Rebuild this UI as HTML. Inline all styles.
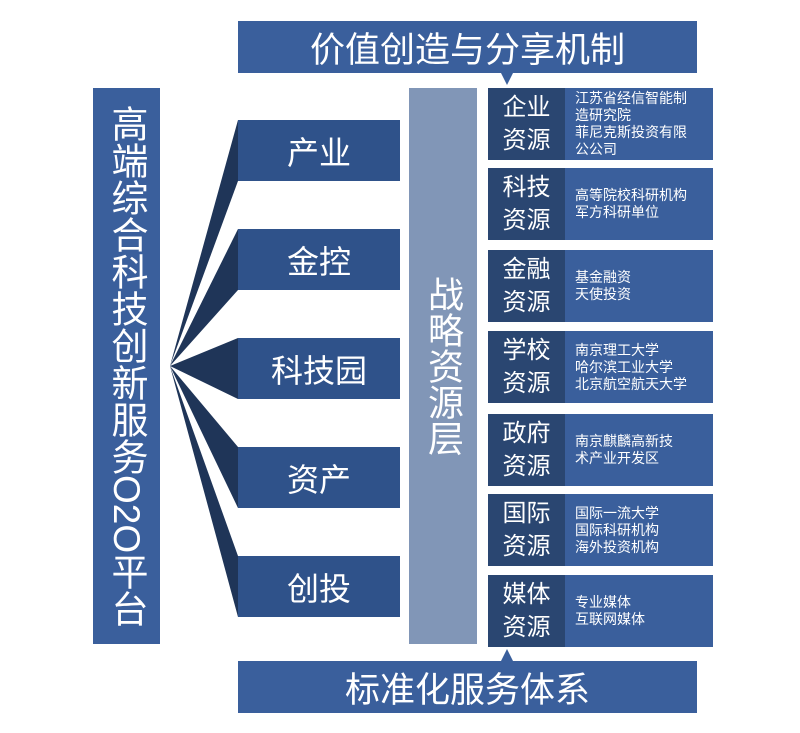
<!DOCTYPE html>
<html><head><meta charset="utf-8"><style>
body{margin:0;width:800px;height:733px;background:#fff;position:relative;font-family:"Liberation Sans","Noto Sans CJK SC",sans-serif;overflow:hidden}
.a{position:absolute;color:#fff;display:flex;align-items:center;justify-content:center;box-sizing:border-box}
.ban{background:#3a5f9c;font-size:35px;left:238px;width:459px;height:52px}
.br{background:#2f528a;left:238px;width:162px;height:61px;font-size:32px}
.rl{background:#2a4671;left:488px;width:77px;height:72px;font-size:24px;line-height:33px;text-align:center}
.rr{background:#3a5f9c;left:565px;width:148px;height:72px;font-size:14px;line-height:17px;justify-content:flex-start;padding-left:10px}
</style></head><body>
<svg style="position:absolute;left:0;top:0" width="800" height="733">
<g fill="#1f3558">
<polygon points="170,366 238,120 238,181"/>
<polygon points="170,366 238,229 238,290"/>
<polygon points="170,366 238,338 238,399"/>
<polygon points="170,366 238,447 238,508"/>
<polygon points="170,366 238,556 238,617"/>
</g>
<polygon points="501,73 513,73 507,85" fill="#3a5f9c"/>
<polygon points="501,661 513,661 507,649" fill="#3a5f9c"/>
</svg>
<div class="a ban" style="top:21px">价值创造与分享机制</div>
<div class="a ban" style="top:661px">标准化服务体系</div>
<div class="a" style="left:93px;top:88px;width:67px;height:556px;background:#3a5f9c;font-size:37px;line-height:39px;text-align:center;writing-mode:vertical-rl;letter-spacing:0">高端综合科技创新服务O2O平台</div>
<div class="a br" style="top:120px">产业</div>
<div class="a br" style="top:229px">金控</div>
<div class="a br" style="top:338px">科技园</div>
<div class="a br" style="top:447px">资产</div>
<div class="a br" style="top:556px">创投</div>
<div class="a" style="left:409px;top:88px;width:68px;height:556px;background:#8196b7;font-size:36px;line-height:40px;writing-mode:vertical-rl">战略资源层</div>
<div class="a rl" style="top:88px">企业<br>资源</div><div class="a rr" style="top:88px">江苏省经信智能制<br>造研究院<br>菲尼克斯投资有限<br>公公司</div>
<div class="a rl" style="top:168px">科技<br>资源</div><div class="a rr" style="top:168px">高等院校科研机构<br>军方科研单位</div>
<div class="a rl" style="top:250px">金融<br>资源</div><div class="a rr" style="top:250px">基金融资<br>天使投资</div>
<div class="a rl" style="top:331px">学校<br>资源</div><div class="a rr" style="top:331px">南京理工大学<br>哈尔滨工业大学<br>北京航空航天大学</div>
<div class="a rl" style="top:414px">政府<br>资源</div><div class="a rr" style="top:414px">南京麒麟高新技<br>术产业开发区</div>
<div class="a rl" style="top:494px">国际<br>资源</div><div class="a rr" style="top:494px">国际一流大学<br>国际科研机构<br>海外投资机构</div>
<div class="a rl" style="top:575px">媒体<br>资源</div><div class="a rr" style="top:575px">专业媒体<br>互联网媒体</div>
</body></html>
